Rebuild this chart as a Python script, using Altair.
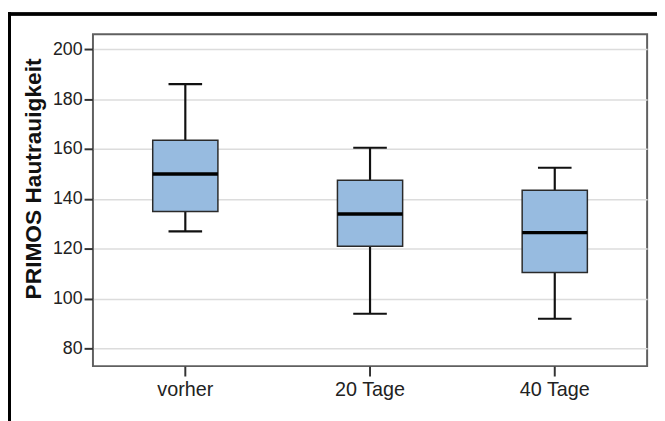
import altair as alt
import pandas as pd

groups = ["vorher", "20 Tage", "40 Tage"]
whisker_low = [127, 94, 92]
q1 = [135, 121, 110.5]
median = [150, 134, 126.5]
q3 = [163.5, 147.5, 143.5]
whisker_high = [186, 160.5, 152.5]
y_ticks = [80, 100, 120, 140, 160, 180, 200]

df = pd.DataFrame({
    "group": groups,
    "lo": whisker_low,
    "q1": q1,
    "med": median,
    "q3": q3,
    "hi": whisker_high,
})

FONT = "Liberation Sans"

x = alt.X("group:N", sort=groups,
          scale=alt.Scale(paddingInner=0, paddingOuter=0),
          axis=alt.Axis(title=None, labelAngle=0, domain=False, grid=False,
                        tickSize=10, tickWidth=2, tickColor="#333333",
                        labelPadding=4, labelFontSize=20, labelColor="#222222",
                        labelFont=FONT))
yscale = alt.Scale(domain=[73, 206], nice=False, zero=False)
yaxis = alt.Axis(values=y_ticks, title="PRIMOS Hautrauigkeit", domain=False,
                 grid=True, gridColor="#dcdcdc", gridWidth=1.5,
                 tickSize=9, tickWidth=2, tickColor="#333333",
                 labelPadding=2, labelFontSize=18, labelColor="#222222",
                 labelFont=FONT, titleFont=FONT, titleFontSize=23,
                 titleFontWeight="bold", titleColor="#111111",
                 titlePadding=7, titleY=146)

base = alt.Chart(df)

whisk = base.mark_rule(color="#111111", strokeWidth=2.2).encode(
    x=x, y=alt.Y("lo:Q", scale=yscale, axis=yaxis), y2="hi:Q")
caps_lo = base.mark_tick(color="#111111", thickness=2.2, size=34, opacity=1).encode(
    x=x, y=alt.Y("lo:Q", scale=yscale))
caps_hi = base.mark_tick(color="#111111", thickness=2.2, size=34, opacity=1).encode(
    x=x, y=alt.Y("hi:Q", scale=yscale))
box = base.mark_bar(size=66, color="#97bbe0", stroke="#2a2a2a",
                    strokeWidth=1.5, opacity=1).encode(
    x=x, y=alt.Y("q1:Q", scale=yscale), y2="q3:Q")
med = base.mark_tick(color="#000000", thickness=3.5, size=66, opacity=1).encode(
    x=x, y=alt.Y("med:Q", scale=yscale))

frame_left = base.mark_rule(color="#000000", strokeWidth=3).encode(
    x=alt.value(-84.5), y=alt.value(-22), y2=alt.value(392))
frame_top = base.mark_rule(color="#000000", strokeWidth=3).encode(
    x=alt.value(-86), x2=alt.value(575), y=alt.value(-20.5))

chart = alt.layer(whisk, caps_lo, caps_hi, box, med, frame_left, frame_top).properties(
    width=561, height=336,
    autosize=alt.AutoSizeParams(type="none"),
    padding={"left": 86, "top": 24, "right": 10, "bottom": 53},
    background="white",
).configure_view(stroke="#606060", strokeWidth=2)

chart.save("out.html", embed_options={"renderer": "svg", "actions": False})
